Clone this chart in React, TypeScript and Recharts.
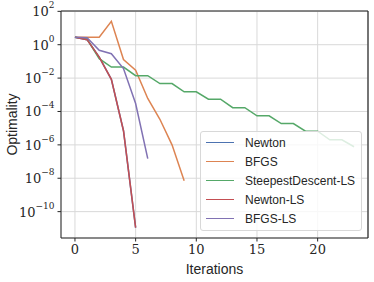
import React from 'react';
import { LineChart, Line, XAxis, YAxis, CartesianGrid, ReferenceLine } from 'recharts';

// values (Optimality per iteration, log scale)
const newton = [2.8, 2.0, 0.18, 0.0085, 7e-6, 1.1e-11];
const bfgs = [2.8, 2.8, 2.8, 25, 0.13, 0.03, 6e-4, 3.4e-5, 1e-6, 7e-9];
const steepestLS = [
  2.8, 2.2, 0.145, 0.046, 0.046, 0.014, 0.014, 0.0047, 0.0047, 0.0015, 0.0015, 5.4e-4,
  5.4e-4, 1.7e-4, 1.7e-4, 5.5e-5, 5.5e-5, 1.9e-5, 1.9e-5, 6.6e-6, 6.6e-6, 2e-6, 2e-6, 7.7e-7,
];
const newtonLS = [2.8, 2.0, 0.18, 0.0085, 7e-6, 1.1e-11];
const bfgsLS = [2.8, 2.6, 0.46, 0.29, 0.037, 3e-4, 1.5e-7];

const xTicks = [0, 5, 10, 15, 20];
const yExps = [2, 0, -2, -4, -6, -8, -10];

const SERIES = [
  { name: 'Newton', values: newton, color: '#4C72B0' },
  { name: 'BFGS', values: bfgs, color: '#DD8452' },
  { name: 'SteepestDescent-LS', values: steepestLS, color: '#55A868' },
  { name: 'Newton-LS', values: newtonLS, color: '#C44E52' },
  { name: 'BFGS-LS', values: bfgsLS, color: '#8172B3' },
];

const X_DOMAIN: [number, number] = [-1.15, 24.15];
const Y_DOMAIN: [number, number] = [Math.pow(10, -11.58), Math.pow(10, 2.02)];

const toRows = (vals: number[]) => vals.map((y, x) => ({ x, y }));

const SERIF = '"DejaVu Serif", "Liberation Serif", serif';
const SANS = '"Liberation Sans", "DejaVu Sans", sans-serif';
const INK = '#262626';

const PowTick = (props: any) => {
  const { x, y, payload } = props;
  const e = Math.round(Math.log10(payload.value));
  const exp = e < 0 ? `\u2212${-e}` : `${e}`;
  return (
    <text x={x} y={y} textAnchor="end" dominantBaseline="central" fontFamily={SERIF} fontSize={13} fill={INK}>
      <tspan>10</tspan>
      <tspan dy={-6} fontSize={9}>{exp}</tspan>
    </text>
  );
};

const LegendBox = () => (
  <div
    style={{
      position: 'absolute',
      left: 200,
      top: 131,
      background: 'rgba(255,255,255,0.8)',
      border: '1px solid #d8d8d8',
      borderRadius: 3,
      padding: '1px 6px 2px 5px',
      fontFamily: SANS,
      fontSize: 12,
      color: INK,
    }}
  >
    {SERIES.map((s) => (
      <div key={s.name} style={{ display: 'flex', alignItems: 'center', height: 19.1 }}>
        <span style={{ display: 'inline-block', width: 28, height: 0, borderTop: `1.5px solid ${s.color}`, marginRight: 11 }} />
        <span>{s.name}</span>
      </div>
    ))}
  </div>
);

export default function App() {
  return (
    <div style={{ position: 'absolute', left: 0, top: 0, width: 374, height: 282, background: '#fff' }}>
      <LineChart width={374} height={282} margin={{ top: 11, right: 6, bottom: 0, left: 0 }}>
        <CartesianGrid stroke="#d9d9d9" strokeWidth={1} />
        <XAxis
          type="number"
          dataKey="x"
          domain={X_DOMAIN}
          ticks={xTicks}
          interval={0}
          allowDataOverflow
          height={44}
          tickSize={3.5}
          tickMargin={3}
          stroke={INK}
          tick={{ fontFamily: SERIF, fontSize: 13, fill: INK }}
          label={{ value: 'Iterations', position: 'insideBottom', offset: 8, fontFamily: SANS, fontSize: 14, fill: INK }}
        />
        <YAxis
          type="number"
          scale="log"
          domain={Y_DOMAIN}
          ticks={yExps.map((e) => Math.pow(10, e))}
          interval={0}
          allowDataOverflow
          width={61}
          tickSize={3.5}
          tickMargin={3}
          stroke={INK}
          tick={<PowTick />}
          label={{
            value: 'Optimality',
            angle: -90,
            position: 'insideLeft',
            offset: 12,
            style: { textAnchor: 'middle' },
            fontFamily: SANS,
            fontSize: 14,
            fill: INK,
          }}
        />
        <ReferenceLine y={Y_DOMAIN[1]} stroke={INK} strokeWidth={1.2} />
        <ReferenceLine x={X_DOMAIN[1]} stroke={INK} strokeWidth={1.2} />
        {SERIES.map((s) => (
          <Line
            key={s.name}
            data={toRows(s.values)}
            dataKey="y"
            name={s.name}
            stroke={s.color}
            strokeWidth={1.5}
            dot={false}
            isAnimationActive={false}
          />
        ))}
      </LineChart>
      <LegendBox />
    </div>
  );
}
